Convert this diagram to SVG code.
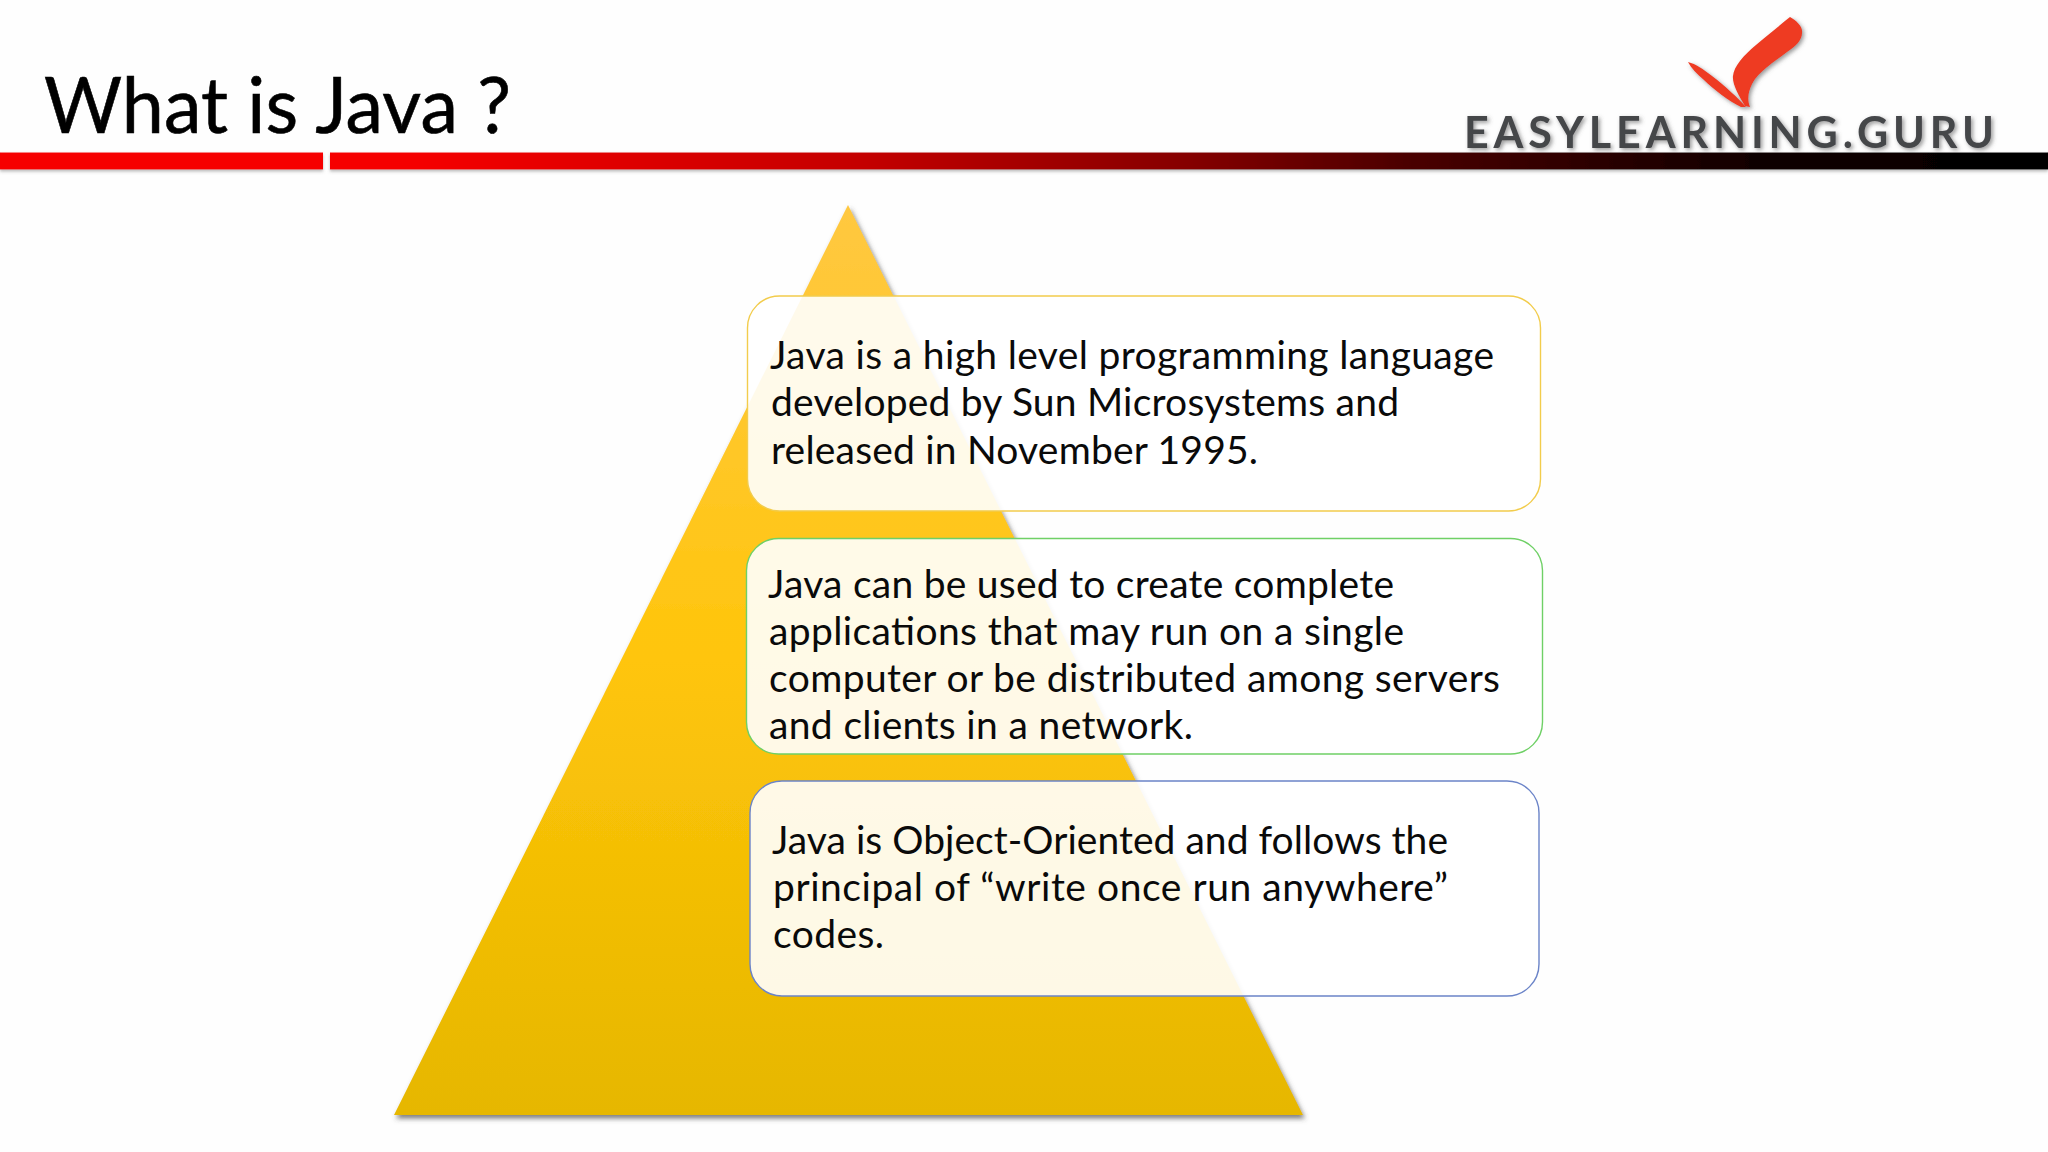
<svg xmlns="http://www.w3.org/2000/svg" width="2048" height="1152" viewBox="0 0 2048 1152">
<style>
.b{font-family:"Lato","Carlito","Open Sans",sans-serif;font-size:39px;fill:#0a0a0a}
.box{fill:#fff;fill-opacity:.9;stroke-width:1.4}
</style>
<defs>
<linearGradient id="bar" x1="0" x2="1" y1="0" y2="0">
<stop offset="0" stop-color="#f60006"/><stop offset=".05" stop-color="#f50006"/><stop offset=".31" stop-color="#c40003"/><stop offset=".5" stop-color="#850000"/><stop offset=".63" stop-color="#4a0000"/><stop offset=".83" stop-color="#100000"/><stop offset="1" stop-color="#000"/>
</linearGradient>
<linearGradient id="tri" x1="0" x2="0" y1="0" y2="1">
<stop offset="0" stop-color="#ffc840"/><stop offset=".28" stop-color="#ffc726"/><stop offset=".5" stop-color="#ffc50a"/><stop offset="1" stop-color="#e6b700"/>
</linearGradient>
<filter id="sh" x="-5%" y="-5%" width="110%" height="110%"><feDropShadow dx="2" dy="3.500" stdDeviation="2.500" flood-color="#444" flood-opacity=".7"/></filter>
<filter id="barsh" x="-1%" y="-50%" width="102%" height="220%"><feDropShadow dx="0" dy="2" stdDeviation="1.500" flood-color="#777" flood-opacity=".5"/></filter>
<filter id="logosh" x="-5%" y="-30%" width="110%" height="170%"><feGaussianBlur stdDeviation=".6" result="a"/><feDropShadow in="a" dx="2" dy="2" stdDeviation="2" flood-color="#555" flood-opacity=".6"/></filter>
</defs>
<rect width="2048" height="1152" fill="#fefefe"/>
<g id="title"><text x="44" y="133" font-family="Lato,Carlito,sans-serif" font-size="78" fill="#000" stroke="#000" stroke-width=".6" textLength="467" lengthAdjust="spacingAndGlyphs">What is Java ?</text></g>
<g id="logo">
<g filter="url(#logosh)">
<path fill="#ee3a22" d="M1790 17C1797 21 1803 27 1802 33C1802 40 1796 46 1787 52C1774 62 1758 72 1752 84C1748 92 1747 100 1750 107L1745 106C1739 96 1732 84 1733 76C1734 66 1744 55 1756 45C1768 35 1780 25 1790 17Z"/>
<path fill="#ee3a22" d="M1688 62C1696 64 1703 69 1712 76C1725 86 1738 98 1746 107L1741 107C1729 101 1714 90 1704 80C1697 74 1691 68 1688 62Z"/>
</g>
<text x="1464" y="148" font-family="Lato,sans-serif" font-weight="700" font-size="43" fill="#45464a" textLength="530" lengthAdjust="spacing" filter="url(#logosh)">EASYLEARNING.GURU</text>
</g>
<g id="header-bar" filter="url(#barsh)">
<rect x="0" y="152.500" width="323" height="17" fill="#f60006"/>
<rect x="330" y="152.500" width="1718" height="17" fill="url(#bar)"/>
</g>
<g id="pyramid"><polygon points="848,205 1303,1115 394,1115" fill="url(#tri)" filter="url(#sh)"/></g>
<g id="box-1">
<rect class="box" x="747.500" y="296" width="793" height="215" rx="32" stroke="#f2cc4c"/>
<text class="b"><tspan x="770" y="369" textLength="724">Java is a high level programming language</tspan><tspan x="771" y="416" textLength="628">developed by Sun Microsystems and</tspan><tspan x="771" y="463.500" textLength="487">released in November 1995.</tspan></text>
</g>
<g id="box-2">
<rect class="box" x="746.500" y="538.500" width="796" height="215.500" rx="32" stroke="#6fd066"/>
<text class="b"><tspan x="768" y="598" textLength="626">Java can be used to create complete</tspan><tspan x="769" y="645" textLength="635">applications that may run on a single</tspan><tspan x="769" y="692" textLength="731">computer or be distributed among servers</tspan><tspan x="769" y="739" textLength="424">and clients in a network.</tspan></text>
</g>
<g id="box-3">
<rect class="box" x="750" y="781" width="789" height="215" rx="32" stroke="#6b84c8"/>
<text class="b"><tspan x="772" y="854" textLength="676">Java is Object-Oriented and follows the</tspan><tspan x="773" y="901" textLength="675">principal of “write once run anywhere”</tspan><tspan x="773" y="948" textLength="111">codes.</tspan></text>
</g>
</svg>
